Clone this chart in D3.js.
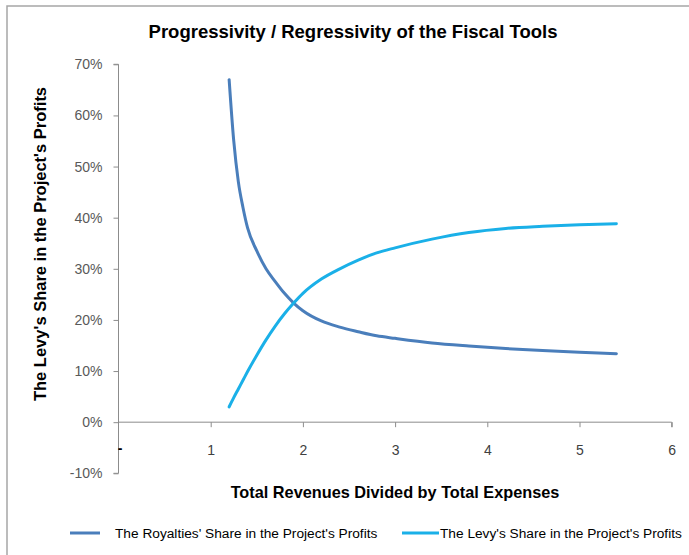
<!DOCTYPE html>
<html>
<head>
<meta charset="utf-8">
<script src="https://cdn.jsdelivr.net/npm/d3@7/dist/d3.min.js"></script>
<style>
  html, body { margin: 0; padding: 0; background: #fff; }
  svg { display: block; }
</style>
</head>
<body>
<script>
// Ratio of total revenues to total expenses
const ratio = [1.2, 1.25, 1.3, 1.35, 1.4, 1.5, 1.6, 1.7, 1.8, 1.9, 2.0, 2.2, 2.4, 2.6, 2.8, 3.0, 3.4, 3.8, 4.2, 4.6, 5.0, 5.4];
// Royalties' share in the project's profits (%)
const royaltiesShare = [67, 55, 47, 42, 38, 33.5, 30, 27.5, 25.2, 23.3, 21.8, 19.8, 18.6, 17.7, 16.9, 16.4, 15.5, 14.9, 14.4, 14.0, 13.7, 13.4];
// Levy's share in the project's profits (%)
const levyShare = [3, 4.8, 6.5, 8.2, 9.9, 13.1, 16.1, 18.8, 21.2, 23.3, 25.2, 28, 30, 31.7, 33.1, 34.1, 35.8, 37.1, 37.9, 38.3, 38.6, 38.8];

const xTicks = [0, 1, 2, 3, 4, 5, 6];
const yTicks = [-10, 0, 10, 20, 30, 40, 50, 60, 70];

const seriesNames = ["The Royalties' Share in the Project's Profits", "The Levy's Share in the Project's Profits"];
const seriesColors = ["#4a7ebb", "#1ab0e8"];

const W = 689, H = 555;
const FONT = "Liberation Sans, Arial, sans-serif";
const svg = d3.select("body").append("svg").attr("width", W).attr("height", H);

// chart frame
svg.append("rect").attr("x", 7).attr("y", 6).attr("width", 720).attr("height", 600)
  .attr("fill", "none").attr("stroke", "#a6a6a6").attr("stroke-width", 1.5);

const x = d3.scaleLinear().domain([0, 6]).range([118.5, 671.7]);
const y = d3.scaleLinear().domain([-10, 70]).range([473.3, 64.3]);

// title
svg.append("text").attr("x", 353).attr("y", 38).attr("text-anchor", "middle")
  .attr("font-family", FONT).attr("font-weight", "bold")
  .attr("font-size", 18.5).attr("fill", "#000")
  .text("Progressivity / Regressivity of the Fiscal Tools");

// y axis
const yAxis = d3.axisLeft(y).tickValues(yTicks).tickSize(5).tickPadding(4)
  .tickFormat(d => d + "%");
const gy = svg.append("g").attr("transform", `translate(${x(0)},0)`).call(yAxis);
gy.select(".domain").attr("stroke", "#8c8c8c").attr("d", `M-5,${y(70)}H0V${y(-10)}H-5`);
gy.selectAll(".tick line").attr("stroke", "#8c8c8c");
gy.selectAll(".tick text").attr("font-family", FONT)
  .attr("font-size", 14).attr("fill", "#595959").attr("x", -16);

// x axis at 0%
const xAxis = d3.axisBottom(x).tickValues(xTicks).tickSize(5).tickPadding(0)
  .tickFormat(d => d === 0 ? "-" : d);
const gx = svg.append("g").attr("transform", `translate(0,${y(0)})`).call(xAxis);
gx.select(".domain").attr("stroke", "#8c8c8c").attr("d", `M${x(0)},0H${x(6)}V5`);
gx.selectAll(".tick line").attr("stroke", "#8c8c8c");
gx.selectAll(".tick").filter(d => d === 0).select("line").remove();
gx.selectAll(".tick text").attr("font-family", FONT)
  .attr("font-size", 14).attr("fill", "#404040").attr("y", 33).attr("dy", 0);
gx.selectAll(".tick").filter(d => d === 0).select("text")
  .attr("fill", "#000").attr("font-weight", "bold").attr("x", 1).attr("y", 31);

// axis titles
svg.append("text").attr("x", 395).attr("y", 498).attr("text-anchor", "middle")
  .attr("font-family", FONT).attr("font-weight", "bold")
  .attr("font-size", 16.3).attr("fill", "#000")
  .text("Total Revenues Divided by Total Expenses");

svg.append("text").attr("transform", "translate(46,244) rotate(-90)").attr("text-anchor", "middle")
  .attr("font-family", FONT).attr("font-weight", "bold")
  .attr("font-size", 16.5).attr("fill", "#000")
  .text("The Levy's Share in the Project's Profits");

// series lines
const line = d3.line().x(d => x(d[0])).y(d => y(d[1])).curve(d3.curveMonotoneX);
[royaltiesShare, levyShare].forEach((vals, i) => {
  svg.append("path")
    .datum(ratio.map((r, j) => [r, vals[j]]))
    .attr("fill", "none").attr("stroke", seriesColors[i]).attr("stroke-width", 3)
    .attr("stroke-linecap", "round").attr("stroke-linejoin", "round")
    .attr("d", line);
});

// legend
const legendItems = [
  { x1: 70, x2: 100, tx: 115 },
  { x1: 402, x2: 439, tx: 440 }
];
seriesNames.forEach((name, i) => {
  const it = legendItems[i];
  svg.append("line").attr("x1", it.x1).attr("x2", it.x2).attr("y1", 533).attr("y2", 533)
    .attr("stroke", seriesColors[i]).attr("stroke-width", 3);
  svg.append("text").attr("x", it.tx).attr("y", 538)
    .attr("font-family", FONT)
    .attr("font-size", 13.7).attr("fill", "#000").text(name);
});
</script>
</body>
</html>
